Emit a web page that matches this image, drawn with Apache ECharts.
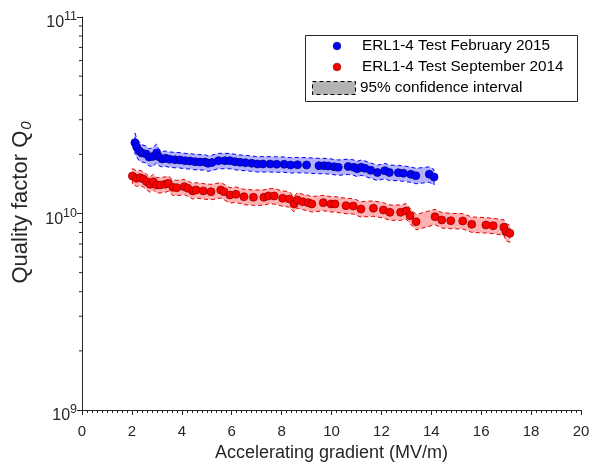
<!DOCTYPE html>
<html>
<head>
<meta charset="utf-8">
<script src="https://cdn.jsdelivr.net/npm/echarts@6/dist/echarts.min.js"></script>
<style>html,body{margin:0;padding:0;background:#fff;}#c{width:590px;height:464px;}</style>
</head>
<body>
<div id="c"></div>
<script>
// ---- data (Q in units of 1e10) ----
var febX = [2.12,2.19,2.30,2.40,2.57,2.69,2.83,2.99,3.06,3.21,3.35,3.51,3.73,3.93,4.13,4.33,4.53,4.73,4.93,5.05,5.21,5.47,5.73,5.93,6.13,6.33,6.55,6.80,7.03,7.25,7.54,7.80,8.10,8.36,8.64,9.00,9.50,9.70,9.87,10.10,10.27,10.67,10.90,11.03,11.19,11.34,11.57,11.84,12.14,12.32,12.68,12.88,13.18,13.38,13.92,14.11];
var febQ = [2.292,2.180,2.080,2.032,2.008,1.939,1.950,2.032,1.950,1.894,1.909,1.887,1.878,1.872,1.856,1.850,1.835,1.828,1.828,1.801,1.818,1.856,1.856,1.856,1.835,1.822,1.814,1.801,1.786,1.786,1.786,1.782,1.780,1.765,1.770,1.765,1.751,1.751,1.745,1.731,1.718,1.735,1.718,1.690,1.718,1.698,1.659,1.617,1.651,1.617,1.613,1.602,1.583,1.557,1.585,1.534];
var febCI = [0.12,0.11,0.11,0.10,0.10,0.10,0.11,0.11,0.10,0.09,0.09,0.09,0.09,0.09,0.09,0.09,0.09,0.09,0.09,0.09,0.09,0.09,0.09,0.09,0.09,0.09,0.09,0.09,0.09,0.09,0.09,0.09,0.09,0.09,0.09,0.09,0.09,0.09,0.09,0.09,0.09,0.09,0.09,0.09,0.09,0.09,0.09,0.09,0.09,0.09,0.09,0.09,0.09,0.09,0.09,0.09];
var sepX = [2.02,2.19,2.32,2.46,2.59,2.73,2.86,2.99,3.13,3.33,3.46,3.64,3.80,4.10,4.24,4.44,4.57,4.86,5.17,5.56,5.69,5.93,6.17,6.49,6.87,7.29,7.47,7.70,8.04,8.31,8.50,8.63,8.85,9.07,9.21,9.67,9.98,10.14,10.58,10.87,11.18,11.68,12.08,12.34,12.77,12.99,13.15,13.39,14.15,14.42,14.78,15.26,15.62,16.19,16.48,16.91,16.99,17.15];
var sepQ = [1.552,1.511,1.521,1.498,1.452,1.408,1.452,1.397,1.397,1.408,1.425,1.359,1.353,1.369,1.344,1.302,1.317,1.302,1.291,1.317,1.291,1.242,1.252,1.218,1.209,1.209,1.228,1.228,1.195,1.185,1.118,1.171,1.148,1.135,1.118,1.135,1.118,1.118,1.096,1.092,1.054,1.063,1.042,1.014,1.014,1.030,0.975,0.908,0.963,0.927,0.919,0.916,0.881,0.874,0.867,0.851,0.808,0.793];
var sepCI = [0.09,0.09,0.09,0.09,0.09,0.09,0.09,0.09,0.09,0.09,0.09,0.09,0.09,0.09,0.09,0.09,0.09,0.09,0.09,0.09,0.09,0.09,0.09,0.09,0.09,0.09,0.09,0.09,0.09,0.09,0.09,0.09,0.09,0.09,0.09,0.09,0.09,0.09,0.09,0.09,0.09,0.09,0.09,0.09,0.09,0.09,0.09,0.09,0.09,0.09,0.09,0.09,0.09,0.09,0.09,0.09,0.10,0.10];
var xTicks = [0,2,4,6,8,10,12,14,16,18,20];
var yDecades = [1e9,1e10,1e11];
var yMinor = [2e9,3e9,4e9,5e9,6e9,7e9,8e9,9e9,2e10,3e10,4e10,5e10,6e10,7e10,8e10,9e10];
var seriesNames = ['ERL1-4 Test February 2015','ERL1-4 Test September 2014','95% confidence interval'];

var SCALE = 1e10;
function pts(xs, qs){ return xs.map(function(x,i){ return [x, qs[i]*SCALE]; }); }

function bandSeries(xs, qs, ci, fill, stroke){
  return {
    type: 'custom', silent: true, z: 1,
    data: [[xs[0], qs[0]*SCALE]],
    renderItem: function(params, api){
      var up = [], lo = [];
      for (var i = 0; i < xs.length; i++){
        up.push(api.coord([xs[i], qs[i]*SCALE*(1+ci[i])]));
        lo.push(api.coord([xs[i], qs[i]*SCALE*(1-ci[i])]));
      }
      var poly = up.concat(lo.reverse());
      return { type: 'polygon', shape: { points: poly },
        style: { fill: fill, stroke: stroke, lineWidth: 1, lineDash: [4,3] } };
    }
  };
}

var chart = echarts.init(document.getElementById('c'), null, {renderer:'canvas'});
var axisColor = '#262626';
var FONT = 'Liberation Sans, Arial, Helvetica, sans-serif';

var option = {
  animation: false,
  backgroundColor: '#fff',
  textStyle: { fontFamily: FONT },
  grid: { left: 82, right: 9, top: 17, bottom: 54, containLabel: false, outerBoundsMode: 'none' },
  xAxis: {
    type: 'value', min: xTicks[0], max: xTicks[xTicks.length-1], interval: 2,
    name: 'Accelerating gradient (MV/m)', nameLocation: 'middle', nameGap: 34,
    nameTextStyle: { fontSize: 18, color: axisColor, fontFamily: FONT },
    axisLine: { show: true, lineStyle: { color: axisColor, width: 1 } },
    axisTick: { show: true, length: 5, lineStyle: { color: axisColor } },
    minorTick: { show: true, splitNumber: 10, length: 3, lineStyle: { color: axisColor } },
    splitLine: { show: false },
    axisLabel: { fontSize: 15, color: axisColor, margin: 14, fontFamily: FONT }
  },
  yAxis: {
    type: 'log', logBase: 10, min: yDecades[0], max: yDecades[yDecades.length-1],
    name: '{a|Quality factor Q}{s|0}', nameLocation: 'middle', nameGap: 34,
    nameTextStyle: { padding: [0,0,0,22], rich: {
      a: { fontSize: 22, color: axisColor, fontFamily: FONT },
      s: { fontSize: 15, color: axisColor, fontStyle: 'italic', fontFamily: FONT, padding: [11,0,0,1] }
    }},
    axisLine: { show: true, lineStyle: { color: axisColor, width: 1 } },
    axisTick: { show: true, length: 5, lineStyle: { color: axisColor } },
    minorTick: { show: false },
    splitLine: { show: false },
    axisLabel: {
      color: axisColor, margin: 5, padding: [12,0,0,0],
      formatter: function(v){ var e = Math.round(Math.log10(v)); return '{b|10}{s|' + e + '}'; },
      rich: {
        b: { fontSize: 16, color: axisColor, fontFamily: FONT },
        s: { fontSize: 12.5, color: axisColor, fontFamily: FONT, padding: [0,0,12,0] }
      }
    }
  },
  series: [
    bandSeries(febX, febQ, febCI, 'rgba(0,0,255,0.3)', '#0000ff'),
    bandSeries(sepX, sepQ, sepCI, 'rgba(255,0,0,0.3)', '#e00000'),
    {
      type: 'custom', silent: true, z: 3, clip: false,
      data: yMinor.map(function(v){ return [0, v]; }),
      renderItem: function(params, api){
        var p = api.coord([0, api.value(1)]);
        return { type: 'line', shape: { x1: p[0]-3, y1: p[1], x2: p[0], y2: p[1] },
          style: { stroke: axisColor, lineWidth: 1 } };
      }
    },
    {
      name: seriesNames[0], type: 'scatter', z: 5, data: pts(febX, febQ),
      symbol: 'circle', symbolSize: 8,
      itemStyle: { color: '#0000ff', borderColor: '#00007a', borderWidth: 0.7, opacity: 1 }
    },
    {
      name: seriesNames[1], type: 'scatter', z: 5, data: pts(sepX, sepQ),
      symbol: 'circle', symbolSize: 8,
      itemStyle: { color: '#ff0000', borderColor: '#8a0000', borderWidth: 0.7, opacity: 1 }
    }
  ],
  graphic: [
    { type: 'rect', z: 10, shape: { x: 305.5, y: 35.5, width: 272, height: 66 },
      style: { fill: '#fff', stroke: axisColor, lineWidth: 1 } },
    { type: 'circle', z: 11, shape: { cx: 337, cy: 46, r: 3.8 },
      style: { fill: '#0000ff', stroke: '#00007a', lineWidth: 0.7 } },
    { type: 'text', z: 11, x: 362, y: 46,
      style: { text: seriesNames[0], fontSize: 15.3, fill: '#000', fontFamily: FONT, verticalAlign: 'middle' } },
    { type: 'circle', z: 11, shape: { cx: 337, cy: 67, r: 3.8 },
      style: { fill: '#ff0000', stroke: '#8a0000', lineWidth: 0.7 } },
    { type: 'text', z: 11, x: 362, y: 67,
      style: { text: seriesNames[1], fontSize: 15.3, fill: '#000', fontFamily: FONT, verticalAlign: 'middle' } },
    { type: 'rect', z: 11, shape: { x: 312.5, y: 81.5, width: 43, height: 13 },
      style: { fill: '#b3b3b3', stroke: '#000', lineWidth: 1, lineDash: [4,3] } },
    { type: 'text', z: 11, x: 360, y: 88,
      style: { text: seriesNames[2], fontSize: 15.3, fill: '#000', fontFamily: FONT, verticalAlign: 'middle' } }
  ]
};
chart.setOption(option);
</script>
</body>
</html>
